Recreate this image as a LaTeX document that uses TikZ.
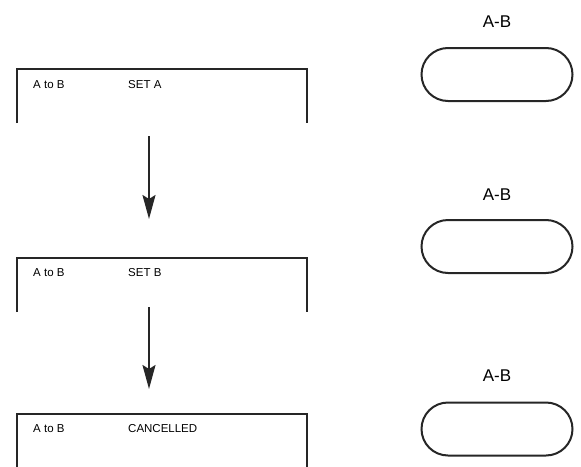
\documentclass[tikz,border=0pt]{standalone}
\usepackage{fontspec}
\setmainfont{Liberation Sans}
\usetikzlibrary{arrows.meta,shapes.misc}
\begin{document}
\begin{tikzpicture}[x=1pt,y=-1pt,
  boxline/.style={line width=1.8pt,draw=black!85},
  boxtext/.style={anchor=base west,inner sep=0pt,font=\fontsize{11.5}{13}\selectfont},
  stad/.style={rounded rectangle,draw=black!85,line width=2pt,minimum width=151pt,minimum height=53pt,inner sep=0pt},
  stadlabel/.style={font=\fontsize{17}{20}\selectfont,inner sep=0pt},
  flow/.style={line width=2pt,draw=black!85,-{Stealth[length=24pt,width=13pt,inset=4pt]}}]
\useasboundingbox (0,0) rectangle (581,466);
% boxes
\draw[boxline] (17,123) -- (17,69) -- (307,69) -- (307,123);
\draw[boxline] (17,312) -- (17,258) -- (307,258) -- (307,312);
\draw[boxline] (17,467) -- (17,414) -- (307,414) -- (307,467);
\node[boxtext] (t1a) at (33,88) {A to B};
\node[boxtext] (t1b) at (128,88) {SET A};
\node[boxtext] (t2a) at (33,276) {A to B};
\node[boxtext] (t2b) at (128,276) {SET B};
\node[boxtext] (t3a) at (33,432) {A to B};
\node[boxtext] (t3b) at (128,432) {CANCELLED};
% arrows
\coordinate (a1s) at (149,136);
\coordinate (a1e) at (149,219);
\coordinate (a2s) at (149,307);
\coordinate (a2e) at (149,389);
\draw[flow] (a1s) -- (a1e);
\draw[flow] (a2s) -- (a2e);
% stadiums
\node[stad] (s1) at (497,74.5) {};
\node[stad] (s2) at (497,246.5) {};
\node[stad] (s3) at (497,429) {};
\node[stadlabel] (l1) at (497,22) {A-B};
\node[stadlabel] (l2) at (497,195) {A-B};
\node[stadlabel] (l3) at (497,376) {A-B};
\end{tikzpicture}
\end{document}
